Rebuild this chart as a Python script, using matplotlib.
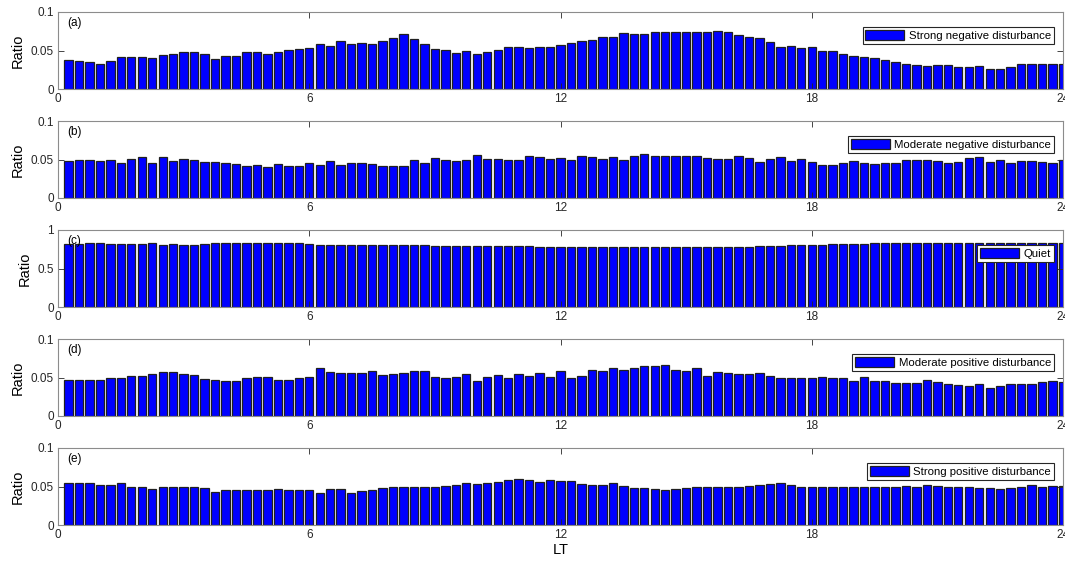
import numpy as np
import matplotlib.pyplot as plt
from matplotlib.patches import Patch

plt.rcParams['font.family'] = ['Liberation Sans', 'DejaVu Sans']

# local time, 15-min bins
lt = np.arange(1, 97) * 0.25

strong_neg = [0.038, 0.037, 0.035, 0.033, 0.037, 0.041, 0.041, 0.041, 0.040, 0.044,
              0.045, 0.048, 0.048, 0.046, 0.039, 0.043, 0.043, 0.048, 0.048, 0.045,
              0.048, 0.051, 0.052, 0.053, 0.058, 0.056, 0.062, 0.059, 0.060, 0.058,
              0.062, 0.066, 0.071, 0.065, 0.058, 0.052, 0.051, 0.047, 0.050, 0.045,
              0.048, 0.051, 0.054, 0.054, 0.053, 0.055, 0.055, 0.057, 0.060, 0.062,
              0.064, 0.068, 0.068, 0.073, 0.072, 0.072, 0.074, 0.074, 0.074, 0.074,
              0.074, 0.074, 0.075, 0.074, 0.070, 0.068, 0.066, 0.061, 0.054, 0.056,
              0.053, 0.054, 0.050, 0.050, 0.045, 0.043, 0.041, 0.040, 0.038, 0.035,
              0.033, 0.031, 0.030, 0.031, 0.031, 0.028, 0.029, 0.030, 0.026, 0.026,
              0.029, 0.032, 0.032, 0.033, 0.032, 0.032]

moderate_neg = [0.048, 0.050, 0.050, 0.048, 0.050, 0.045, 0.051, 0.053, 0.046, 0.053,
                0.048, 0.051, 0.049, 0.047, 0.047, 0.046, 0.044, 0.042, 0.043, 0.040,
                0.044, 0.042, 0.042, 0.045, 0.043, 0.048, 0.043, 0.045, 0.046, 0.044,
                0.041, 0.042, 0.041, 0.050, 0.045, 0.052, 0.049, 0.048, 0.050, 0.056,
                0.051, 0.051, 0.050, 0.050, 0.055, 0.053, 0.051, 0.052, 0.049, 0.054,
                0.053, 0.051, 0.053, 0.049, 0.054, 0.057, 0.054, 0.054, 0.055, 0.055,
                0.055, 0.052, 0.051, 0.051, 0.054, 0.052, 0.047, 0.051, 0.053, 0.048,
                0.051, 0.047, 0.043, 0.043, 0.046, 0.048, 0.045, 0.044, 0.046, 0.046,
                0.050, 0.049, 0.049, 0.048, 0.046, 0.047, 0.052, 0.053, 0.047, 0.049,
                0.045, 0.048, 0.048, 0.047, 0.046, 0.050]

quiet = [0.824, 0.824, 0.828, 0.828, 0.824, 0.820, 0.820, 0.820, 0.828, 0.807,
         0.815, 0.807, 0.807, 0.820, 0.837, 0.828, 0.837, 0.828, 0.828, 0.828,
         0.828, 0.828, 0.828, 0.820, 0.811, 0.807, 0.807, 0.807, 0.807, 0.805,
         0.805, 0.803, 0.803, 0.800, 0.800, 0.798, 0.798, 0.795, 0.795, 0.793,
         0.793, 0.790, 0.790, 0.788, 0.788, 0.785, 0.785, 0.783, 0.783, 0.780,
         0.780, 0.778, 0.778, 0.776, 0.776, 0.776, 0.776, 0.778, 0.778, 0.780,
         0.782, 0.785, 0.777, 0.781, 0.781, 0.781, 0.794, 0.794, 0.794, 0.800,
         0.800, 0.800, 0.811, 0.815, 0.815, 0.824, 0.824, 0.830, 0.828, 0.830,
         0.830, 0.830, 0.830, 0.830, 0.830, 0.837, 0.830, 0.830, 0.833, 0.833,
         0.833, 0.833, 0.833, 0.833, 0.833, 0.833]

moderate_pos = [0.047, 0.047, 0.047, 0.047, 0.049, 0.049, 0.052, 0.052, 0.055, 0.057,
                0.057, 0.055, 0.053, 0.048, 0.047, 0.045, 0.045, 0.050, 0.051, 0.051,
                0.047, 0.047, 0.049, 0.051, 0.062, 0.057, 0.056, 0.056, 0.056, 0.058,
                0.053, 0.055, 0.056, 0.059, 0.058, 0.051, 0.050, 0.051, 0.055, 0.046,
                0.051, 0.053, 0.050, 0.054, 0.052, 0.056, 0.051, 0.058, 0.049, 0.052,
                0.060, 0.059, 0.062, 0.060, 0.062, 0.065, 0.065, 0.066, 0.060, 0.058,
                0.062, 0.052, 0.057, 0.056, 0.055, 0.055, 0.056, 0.052, 0.050, 0.050,
                0.050, 0.050, 0.051, 0.050, 0.050, 0.045, 0.051, 0.045, 0.045, 0.043,
                0.043, 0.043, 0.047, 0.044, 0.041, 0.040, 0.039, 0.041, 0.036, 0.039,
                0.041, 0.042, 0.042, 0.044, 0.045, 0.044]

strong_pos = [0.055, 0.054, 0.054, 0.052, 0.052, 0.055, 0.050, 0.050, 0.047, 0.050,
              0.049, 0.050, 0.050, 0.048, 0.043, 0.045, 0.045, 0.045, 0.045, 0.045,
              0.047, 0.046, 0.045, 0.046, 0.042, 0.047, 0.047, 0.042, 0.044, 0.046,
              0.048, 0.049, 0.049, 0.050, 0.050, 0.050, 0.051, 0.052, 0.054, 0.053,
              0.054, 0.056, 0.058, 0.060, 0.058, 0.056, 0.058, 0.057, 0.057, 0.053,
              0.052, 0.052, 0.054, 0.051, 0.048, 0.048, 0.047, 0.046, 0.047, 0.048,
              0.049, 0.049, 0.050, 0.050, 0.050, 0.051, 0.052, 0.053, 0.054, 0.052,
              0.050, 0.049, 0.049, 0.049, 0.050, 0.049, 0.049, 0.050, 0.050, 0.050,
              0.051, 0.050, 0.052, 0.051, 0.050, 0.050, 0.049, 0.048, 0.048, 0.047,
              0.048, 0.050, 0.052, 0.049, 0.051, 0.051]

series = [strong_neg, moderate_neg, quiet, moderate_pos, strong_pos]
names = ['Strong negative disturbance', 'Moderate negative disturbance', 'Quiet',
         'Moderate positive disturbance', 'Strong positive disturbance']
tags = ['(a)', '(b)', '(c)', '(d)', '(e)']
ylims = [0.1, 0.1, 1, 0.1, 0.1]
yticks = [[0, 0.05, 0.1], [0, 0.05, 0.1], [0, 0.5, 1], [0, 0.05, 0.1], [0, 0.05, 0.1]]
ytick_labels = [['0', '0.05', '0.1'], ['0', '0.05', '0.1'], ['0', '0.5', '1'],
                ['0', '0.05', '0.1'], ['0', '0.05', '0.1']]

fig = plt.figure(figsize=(10.65, 5.66), dpi=100)
W, H = 1065.0, 566.0
left, right = 58, 1063
tops = [12, 121, 230, 339, 448]
ax_h = 77

for i in range(5):
    ax = fig.add_axes([left / W, 1 - (tops[i] + ax_h) / H, (right - left) / W, ax_h / H])
    ax.bar(lt, series[i], width=0.2, color='#0000ff', edgecolor='#202020',
           linewidth=0.9)
    ax.set_xlim(0, 24)
    ax.set_ylim(0, ylims[i])
    ax.set_xticks([0, 6, 12, 18, 24])
    ax.set_yticks(yticks[i])
    ax.set_yticklabels(ytick_labels[i])
    ax.tick_params(direction='in', top=True, right=True, length=4, width=0.6,
                   labelsize=8.5, colors='#262626', pad=3)
    for sp in ax.spines.values():
        sp.set_color('#8c8c8c')
        sp.set_linewidth(0.8)
    ax.set_ylabel('Ratio', fontsize=10.5, labelpad=4)
    ax.text(0.009, 0.93, tags[i], transform=ax.transAxes, fontsize=8.5, va='top',
            ha='left')
    handle = Patch(facecolor='#0000ff', edgecolor='#202020', linewidth=0.9)
    leg = ax.legend([handle], [names[i]], loc='upper right', fontsize=8.2,
                    fancybox=False, framealpha=1, edgecolor='#262626',
                    handlelength=3.4, handleheight=1.0, handletextpad=0.4,
                    borderpad=0.25, borderaxespad=0.5,
                    bbox_to_anchor=(0.9965, 0.88))
    leg.get_frame().set_linewidth(0.8)
    if i == 4:
        ax.set_xlabel('LT', fontsize=10.5, labelpad=1)

fig.savefig('out.png', dpi=100)
